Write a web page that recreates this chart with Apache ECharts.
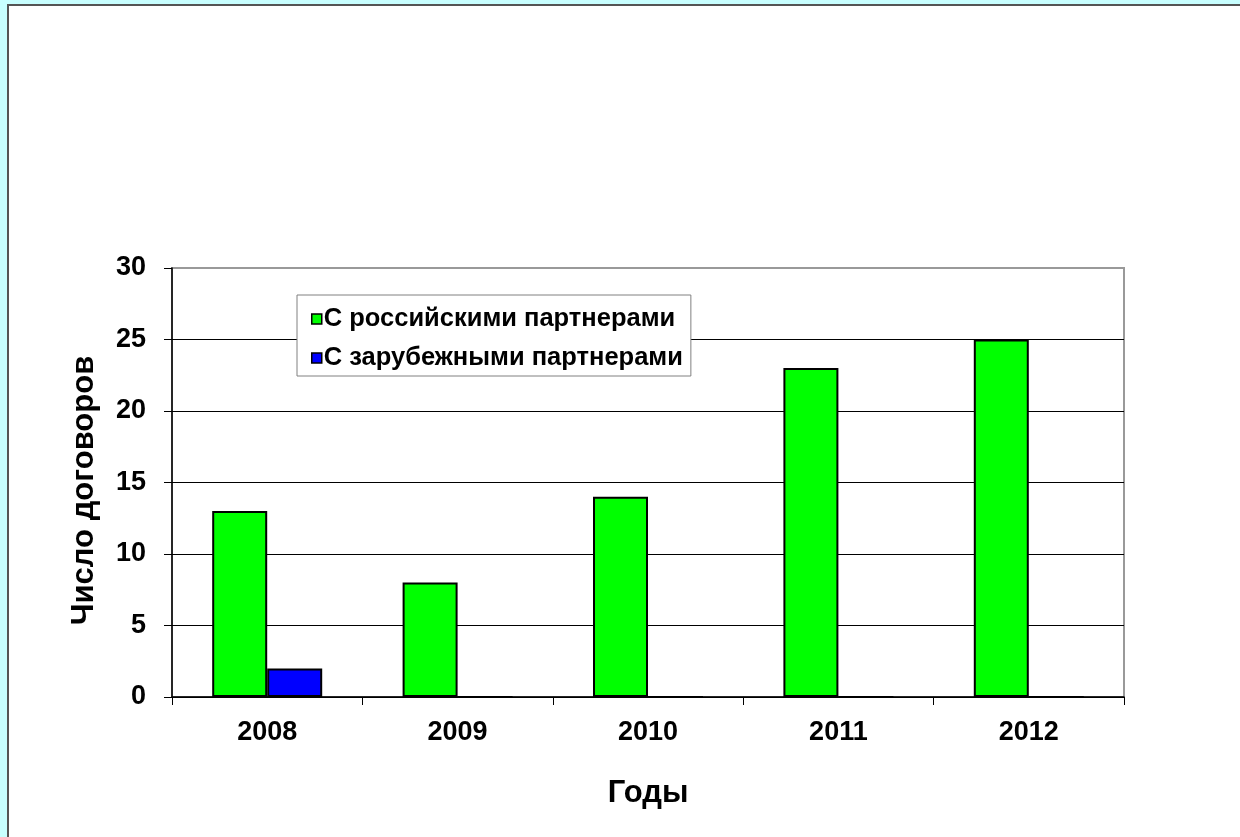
<!DOCTYPE html>
<html><head><meta charset="utf-8">
<script src="https://cdn.jsdelivr.net/npm/echarts@6/dist/echarts.min.js"></script>
<style>html,body{margin:0;padding:0;background:#C8FFFF;}#c{width:1240px;height:837px;}</style>
</head><body><div id="c"></div>
<script>
const years = ['2008','2009','2010','2011','2012'];
const russian = [13, 8, 14, 23, 25];
const foreign = [2, 0, 0, 0, 0];
const seriesNames = ['С российскими партнерами','С зарубежными партнерами'];
const yTitle = 'Число договоров';
const xTitle = 'Годы';
const font = '"Liberation Sans", Arial, sans-serif';
const chart = echarts.init(document.getElementById('c'));
chart.setOption({
  backgroundColor: 'transparent',
  animation: false,
  graphic: [{type:'rect', z:-10, shape:{x:8,y:5,width:1240,height:840}, style:{fill:'#fff', stroke:'#555', lineWidth:2}}],
  grid: {left:172, top:268, right:116, bottom:140, show:true, borderColor:'#999', borderWidth:2, backgroundColor:'transparent'},
  legend: {
    orient:'vertical', left:297, top:295,
    backgroundColor:'#fff', borderColor:'#808080', borderWidth:1,
    padding:[11,8,5,14], itemGap:13, itemWidth:10, itemHeight:10, icon:'rect',
    textStyle:{fontFamily:font, fontWeight:'bold', fontSize:25.5, color:'#000', padding:[0,0,0,-3]},
    itemStyle:{borderColor:'#000', borderWidth:1.5},
    data: seriesNames
  },
  xAxis: {
    type:'category', data: years,
    name: xTitle, nameLocation:'middle', nameGap:81,
    nameTextStyle:{fontFamily:font, fontWeight:'bold', fontSize:31, color:'#000'},
    axisLine:{lineStyle:{color:'#000', width:1.5}},
    axisTick:{show:true, length:8, lineStyle:{color:'#000'}},
    axisLabel:{fontFamily:font, fontWeight:'bold', fontSize:27, color:'#000', margin:22}
  },
  yAxis: {
    type:'value', min:0, max:30, interval:5,
    name: yTitle, nameLocation:'middle', nameGap:72, nameRotate:90,
    nameTextStyle:{fontFamily:font, fontWeight:'bold', fontSize:31, color:'#000', padding:[0,16,0,0]},
    axisLine:{show:true, lineStyle:{color:'#000', width:1.5}},
    axisTick:{show:true, length:8, lineStyle:{color:'#000'}},
    axisLabel:{fontFamily:font, fontWeight:'bold', fontSize:27, color:'#000', margin:26},
    splitLine:{show:true, lineStyle:{color:['#000','#000','#000','#000','#000','#000','#999'], width:1}}
  },
  series: [
    {name:seriesNames[0], type:'bar', data:russian, barWidth:55, barGap:'0%',
     itemStyle:{color:'#00FF00', borderColor:'#000', borderWidth:2}},
    {name:seriesNames[1], type:'bar', data:foreign, barWidth:55,
     itemStyle:{color:'#0000FF', borderColor:'#000', borderWidth:2}}
  ]
});
</script></body></html>
